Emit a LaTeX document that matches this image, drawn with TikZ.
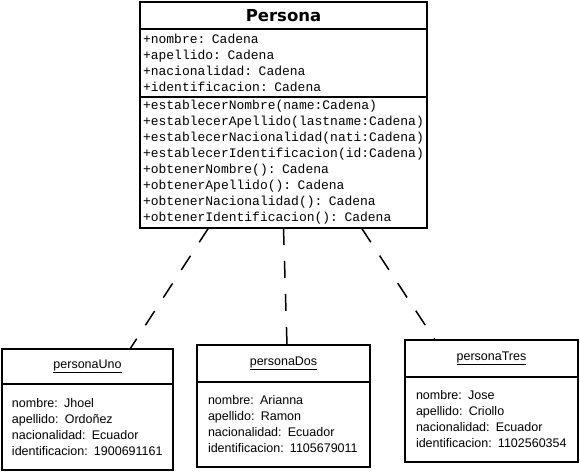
\documentclass[tikz,border=0pt]{standalone}
\usepackage{fontspec}
\setmainfont{Liberation Sans}
\newfontfamily\codefont{Liberation Mono}
\newfontfamily\headfont{DejaVu Sans}
\usetikzlibrary{positioning,calc}

\tikzset{
  box/.style={draw, line width=1.5pt, outer sep=0pt, inner ysep=0pt},
  classhead/.style={box, minimum width=287pt, minimum height=27pt, font=\headfont\bfseries\fontsize{16.5}{19}\selectfont},
  classpart/.style={box, text width=281pt, inner xsep=3pt, align=left, font=\codefont\fontsize{13}{16}\selectfont},
  objhead/.style={box, minimum width=173pt, minimum height=37pt, font=\fontsize{12.5}{16}\selectfont},
  objbody/.style={box, text width=151pt, inner xsep=11pt, align=left, minimum height=85pt, font=\fontsize{12.5}{16}\selectfont},
  link/.style={line width=1.5pt, dash pattern=on 17pt off 16pt},
}

\begin{document}
\begin{tikzpicture}[x=1pt,y=-1pt]
\useasboundingbox (0,0) rectangle (580,472);
%----------------------------------
\node [classhead, anchor=north west] (persona) at (140,2) {Persona};
\node [classpart, below=0pt of persona, minimum height=68pt] (attrs) {+nombre: Cadena\\+apellido: Cadena\\+nacionalidad: Cadena\\+identificacion: Cadena};
\node [classpart, below=0pt of attrs, minimum height=131pt] (ops) {+establecerNombre(name:Cadena)\\+establecerApellido(lastname:Cadena)\\+establecerNacionalidad(nati:Cadena)\\+establecerIdentificacion(id:Cadena)\\+obtenerNombre(): Cadena\\+obtenerApellido(): Cadena\\+obtenerNacionalidad(): Cadena\\+obtenerIdentificacion(): Cadena};
%----------------------------------
\node [objhead, minimum width=171pt, minimum height=35pt, anchor=north west] (uno) at (2,349) {\underline{personaUno}};
\node [objbody, below=0pt of uno, inner xsep=10pt, minimum height=86pt] (unobody) {nombre: Jhoel\\apellido: Ordoñez\\nacionalidad: Ecuador\\identificacion: 1900691161};
\node [objhead, anchor=north west] (dos) at (197,345) {\underline{personaDos}};
\node [objbody, below=0pt of dos] (dosbody) {nombre: Arianna\\apellido: Ramon\\nacionalidad: Ecuador\\identificacion: 1105679011};
\node [objhead, anchor=north west] (tres) at (405,340) {\underline{personaTres}};
\node [objbody, below=0pt of tres] (tresbody) {nombre: Jose\\apellido: Criollo\\nacionalidad: Ecuador\\identificacion: 1102560354};
%----------------------------------
\coordinate (s1) at ($(ops.south)+(-75,0)$);
\coordinate (s2) at (ops.south);
\coordinate (s3) at ($(ops.south)+(78,0)$);
\coordinate (e1) at ($(uno.north)+(42.5,0)$);
\coordinate (e2) at ($(dos.north)+(3.5,0)$);
\coordinate (e3) at ($(tres.north)+(-56.5,0)$);
\draw [link] (s1) -- (e1);
\draw [link] (s2) -- (e2);
\draw [link] (s3) -- (e3);
\end{tikzpicture}
\end{document}
